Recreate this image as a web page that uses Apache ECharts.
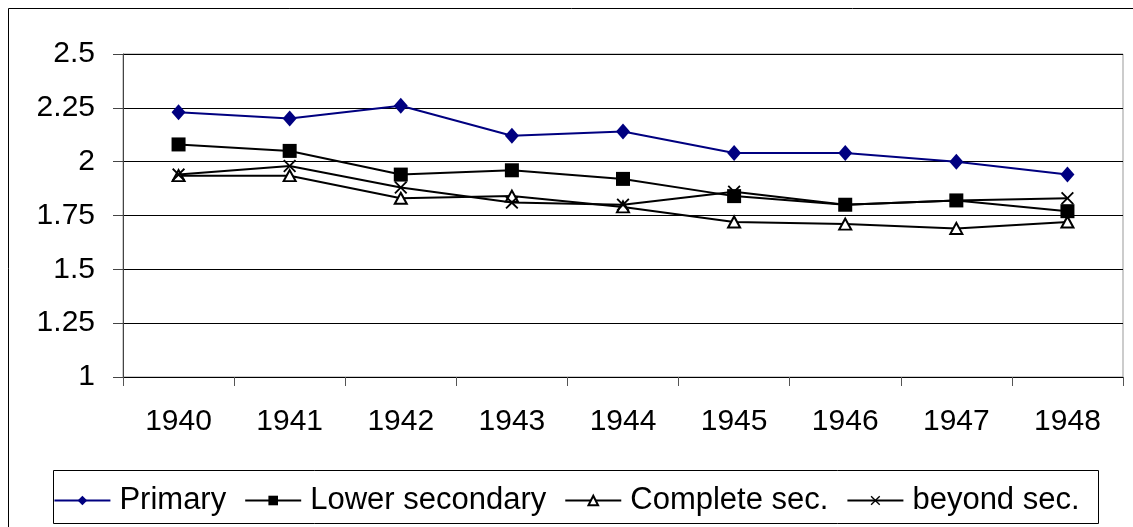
<!DOCTYPE html>
<html>
<head>
<meta charset="utf-8">
<script src="https://cdn.jsdelivr.net/npm/echarts@6/dist/echarts.min.js"></script>
<style>
  html, body { margin: 0; padding: 0; background: #fff; }
  #chart { width: 1133px; height: 527px; }
</style>
</head>
<body>
<div id="chart"></div>
<script>
const years = ['1940', '1941', '1942', '1943', '1944', '1945', '1946', '1947', '1948']
const primary = [2.23, 2.2, 2.26, 2.12, 2.14, 2.04, 2.04, 2.0, 1.94]
const lowerSecondary = [2.08, 2.05, 1.94, 1.96, 1.92, 1.84, 1.80, 1.82, 1.77]
const completeSec = [1.935, 1.935, 1.83, 1.84, 1.79, 1.72, 1.71, 1.69, 1.72]
const beyondSec = [1.94, 1.98, 1.88, 1.81, 1.80, 1.86, 1.80, 1.82, 1.83]

const font = 'Liberation Sans, Arial, sans-serif'
const crossPath = 'path://M0,1L1,0L5,4L9,0L10,1L6,5L10,9L9,10L5,6L1,10L0,9L4,5Z'

const chart = echarts.init(document.getElementById('chart'))

const line = (name, data, color, symbol, size, extra) => Object.assign({
  name: name,
  type: 'line',
  data: data,
  symbol: symbol,
  symbolSize: size,
  lineStyle: { color: color, width: 2 },
  itemStyle: { color: color },
  emphasis: { disabled: true },
  animation: false
}, extra || {})

const option = {
  backgroundColor: '#fff',
  graphic: [
    {
      type: 'rect',
      shape: { x: 8.5, y: 8.5, width: 1140, height: 540 },
      style: { fill: 'none', stroke: '#000', lineWidth: 1 },
      silent: true
    },
    {
      type: 'rect',
      shape: { x: 53.5, y: 470.5, width: 1045, height: 53 },
      style: { fill: '#fff', stroke: '#000', lineWidth: 1 },
      silent: true,
      z: -1
    }
  ],
  grid: {
    left: 123,
    right: 10,
    top: 54,
    bottom: 150,
    show: true,
    borderColor: '#999',
    borderWidth: 1
  },
  legend: {
    left: 'center',
    top: 480,
    itemWidth: 56,
    itemHeight: 12,
    itemGap: 18,
    textStyle: { fontFamily: font, fontSize: 31, color: '#000', padding: [0, 0, 0, 4] },
    data: ['Primary', 'Lower secondary', 'Complete sec.', 'beyond sec.']
  },
  xAxis: {
    type: 'category',
    data: years,
    boundaryGap: true,
    axisLine: { lineStyle: { color: '#000', width: 1 } },
    axisTick: { show: true, length: 9, lineStyle: { color: '#555' } },
    axisLabel: { fontFamily: font, fontSize: 30, color: '#000', margin: 30 }
  },
  yAxis: {
    type: 'value',
    min: 1,
    max: 2.5,
    interval: 0.25,
    axisLine: { show: true, lineStyle: { color: '#444', width: 1 } },
    axisTick: { show: true, length: 10, lineStyle: { color: '#444' } },
    axisLabel: { fontFamily: font, fontSize: 30, color: '#000', margin: 28 },
    splitLine: { lineStyle: { color: '#000', width: 1 } }
  },
  series: [
    line('Primary', primary, '#000080', 'diamond', [14, 16]),
    line('Lower secondary', lowerSecondary, '#000', 'rect', 14),
    line('Complete sec.', completeSec, '#000', 'emptyTriangle', [12, 11], {
      itemStyle: { color: '#000', borderColor: '#000', borderWidth: 2 }
    }),
    line('beyond sec.', beyondSec, '#000', crossPath, 13)
  ]
}

chart.setOption(option)
</script>
</body>
</html>
